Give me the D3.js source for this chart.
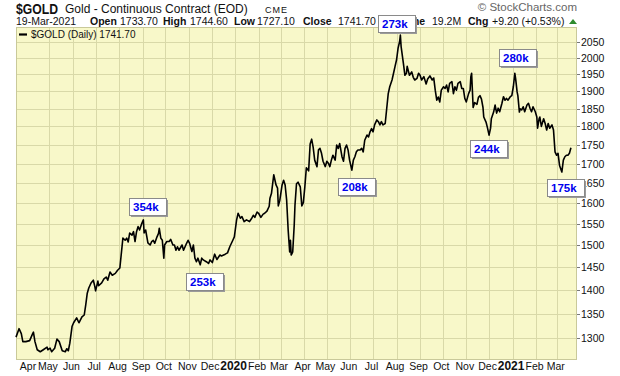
<!DOCTYPE html>
<html>
<head>
<meta charset="utf-8">
<script src="https://cdn.jsdelivr.net/npm/d3@7"></script>
<style>
  body { margin: 0; background: #fff; }
  text { font-family: "Liberation Sans", Arial, sans-serif; }
</style>
</head>
<body>
<svg id="chart" width="620" height="376"></svg>
<script>
// daily closes (continuous gold contract)
const dates = [
  "2019-03-18","2019-03-22","2019-03-25","2019-03-27","2019-03-31","2019-04-05","2019-04-09","2019-04-10","2019-04-12","2019-04-15",
  "2019-04-19","2019-04-23","2019-04-28","2019-04-29","2019-05-02","2019-05-04","2019-05-08","2019-05-11","2019-05-14","2019-05-18",
  "2019-05-22","2019-05-24","2019-05-26","2019-05-28","2019-05-31","2019-06-02","2019-06-06","2019-06-09","2019-06-13","2019-06-16",
  "2019-06-18","2019-06-20","2019-06-22","2019-06-25","2019-06-28","2019-06-30","2019-07-01","2019-07-04","2019-07-05","2019-07-09",
  "2019-07-12","2019-07-15","2019-07-17","2019-07-20","2019-07-23","2019-07-27","2019-07-30","2019-08-02",
  "2019-08-06","2019-08-09","2019-08-11","2019-08-13","2019-08-15","2019-08-18","2019-08-20","2019-08-22","2019-08-24","2019-08-26",
  "2019-08-28","2019-08-31","2019-09-02","2019-09-03","2019-09-05","2019-09-08","2019-09-11","2019-09-13","2019-09-15","2019-09-17",
  "2019-09-20","2019-09-22","2019-09-23","2019-09-25","2019-09-27","2019-09-29","2019-09-30","2019-10-03","2019-10-06","2019-10-08",
  "2019-10-11","2019-10-13","2019-10-15","2019-10-17","2019-10-19","2019-10-23","2019-10-25","2019-10-27","2019-10-29","2019-10-31",
  "2019-11-02","2019-11-05","2019-11-07","2019-11-09","2019-11-11","2019-11-13","2019-11-16","2019-11-18","2019-11-20","2019-11-24",
  "2019-11-27","2019-11-29","2019-12-02","2019-12-05","2019-12-08","2019-12-12","2019-12-14","2019-12-19","2019-12-22","2019-12-25",
  "2019-12-29","2019-12-31","2020-01-03","2020-01-05","2020-01-08","2020-01-10","2020-01-13","2020-01-16","2020-01-20",
  "2020-01-23","2020-01-25","2020-01-27","2020-01-30","2020-02-01","2020-02-04","2020-02-07","2020-02-09","2020-02-12","2020-02-15",
  "2020-02-16","2020-02-18","2020-02-21","2020-02-24","2020-02-26","2020-02-27","2020-02-29","2020-03-03","2020-03-05","2020-03-07",
  "2020-03-09","2020-03-11","2020-03-13","2020-03-14","2020-03-15","2020-03-17","2020-03-19","2020-03-20",
  "2020-03-22","2020-03-24","2020-03-27","2020-03-29","2020-03-31","2020-04-02","2020-04-04","2020-04-07","2020-04-09","2020-04-11",
  "2020-04-13","2020-04-15","2020-04-18","2020-04-20","2020-04-22","2020-04-24","2020-04-26","2020-04-29","2020-05-01","2020-05-03",
  "2020-05-05","2020-05-07","2020-05-09","2020-05-12","2020-05-14","2020-05-16","2020-05-18","2020-05-21","2020-05-23","2020-05-25",
  "2020-05-27","2020-05-29","2020-05-31","2020-06-03","2020-06-05","2020-06-07","2020-06-09","2020-06-11","2020-06-14","2020-06-16",
  "2020-06-18","2020-06-20","2020-06-23","2020-06-25","2020-06-27","2020-06-29","2020-07-01","2020-07-03","2020-07-06","2020-07-08",
  "2020-07-10","2020-07-12","2020-07-14","2020-07-17","2020-07-19","2020-07-21","2020-07-23","2020-07-26","2020-07-28","2020-07-30",
  "2020-08-01","2020-08-03","2020-08-05","2020-08-06","2020-08-07","2020-08-10","2020-08-12","2020-08-14","2020-08-15","2020-08-18",
  "2020-08-21","2020-08-23","2020-08-25","2020-08-28","2020-08-30","2020-09-01",
  "2020-09-03","2020-09-06","2020-09-09","2020-09-11","2020-09-14","2020-09-17","2020-09-19","2020-09-21","2020-09-23","2020-09-25",
  "2020-09-27","2020-09-29","2020-10-02","2020-10-04","2020-10-06","2020-10-08","2020-10-10","2020-10-13","2020-10-15","2020-10-17",
  "2020-10-19","2020-10-21","2020-10-24","2020-10-26","2020-10-28","2020-10-30","2020-11-01","2020-11-04","2020-11-06","2020-11-07",
  "2020-11-08","2020-11-10","2020-11-12","2020-11-15","2020-11-17","2020-11-19","2020-11-21","2020-11-23","2020-11-24","2020-11-27",
  "2020-11-29","2020-12-01","2020-12-03","2020-12-04","2020-12-07","2020-12-09","2020-12-11","2020-12-13","2020-12-15","2020-12-18",
  "2020-12-20","2020-12-22","2020-12-24","2020-12-26","2020-12-29","2020-12-31","2021-01-02","2021-01-04","2021-01-05","2021-01-07",
  "2021-01-08","2021-01-10","2021-01-11","2021-01-13","2021-01-15","2021-01-17","2021-01-20","2021-01-22","2021-01-24","2021-01-26",
  "2021-01-28","2021-01-31","2021-02-02","2021-02-03","2021-02-05","2021-02-06","2021-02-08","2021-02-11","2021-02-13","2021-02-15",
  "2021-02-17","2021-02-19","2021-02-22","2021-02-24","2021-02-26","2021-02-28","2021-03-02","2021-03-04","2021-03-07","2021-03-09",
  "2021-03-11","2021-03-13","2021-03-15","2021-03-17","2021-03-19"
];
const closes = [
  1302,1319,1309,1293,1293,1295,1309,1312,1293,1277,
  1273,1277,1282,1277,1280,1273,1280,1298,1293,1275,
  1273,1279,1275,1290,1324,1331,1341,1331,1343,1347,
  1368,1393,1404,1415,1421,1407,1398,1419,1409,1415,
  1424,1428,1421,1439,1432,1436,1443,1448,
  1516,1511,1516,1507,1528,1523,1531,1508,1531,1543,
  1535,1551,1559,1528,1535,1505,1500,1508,1511,1504,
  1519,1527,1539,1516,1511,1470,1500,1508,1508,1513,
  1500,1500,1488,1496,1488,1500,1488,1496,1504,1511,
  1504,1485,1500,1470,1462,1470,1455,1470,1466,1462,
  1458,1466,1460,1479,1467,1477,1475,1479,1482,1496,
  1511,1519,1559,1575,1563,1567,1555,1559,1555,
  1563,1570,1565,1578,1575,1565,1573,1575,1580,1592,
  1612,1624,1671,1645,1637,1593,1607,1645,1657,1645,
  1607,1535,1484,1511,1477,1484,1547,1595,
  1648,1652,1640,1593,1601,1640,1689,1681,1752,1765,
  1743,1709,1692,1736,1740,1727,1706,1692,1706,1701,
  1692,1709,1722,1709,1749,1740,1753,1718,1706,1740,
  1749,1736,1709,1683,1709,1718,1731,1736,1736,1740,
  1731,1762,1776,1771,1785,1794,1785,1804,1818,1813,
  1804,1813,1804,1808,1850,1893,1913,1933,1953,1974,
  1994,2030,2050,2071,2035,1983,1947,1953,1974,1947,
  1957,1941,1933,1938,1953,1947,
  1933,1943,1921,1936,1945,1933,1939,1903,1874,1883,
  1869,1903,1913,1908,1918,1898,1923,1928,1893,1913,
  1903,1923,1928,1908,1908,1879,1869,1893,1903,1943,
  1953,1853,1867,1862,1882,1887,1877,1853,1826,1812,
  1795,1776,1795,1821,1840,1860,1837,1851,1841,1865,
  1884,1874,1879,1874,1884,1887,1913,1953,1938,1898,
  1887,1840,1849,1846,1855,1841,1860,1865,1851,1841,
  1855,1841,1826,1795,1821,1826,1800,1821,1808,1790,
  1808,1795,1804,1790,1731,1722,1727,1695,1678,1709,
  1718,1722,1722,1727,1741.7
];

const priceTicks = [1300,1350,1400,1450,1500,1550,1600,1650,1700,1750,1800,1850,1900,1950,2000,2050];
const monthLabels = ["Apr","May","Jun","Jul","Aug","Sep","Oct","Nov","Dec","2020","Feb","Mar",
                     "Apr","May","Jun","Jul","Aug","Sep","Oct","Nov","Dec","2021","Feb","Mar"];
const monthStarts = ["2019-04-01","2019-05-01","2019-06-01","2019-07-01","2019-08-01","2019-09-01","2019-10-01","2019-11-01","2019-12-01","2020-01-01","2020-02-01","2020-03-01",
                     "2020-04-01","2020-05-01","2020-06-01","2020-07-01","2020-08-01","2020-09-01","2020-10-01","2020-11-01","2020-12-01","2021-01-01","2021-02-01","2021-03-01"];

// volume call-outs
const volLabels = ["354k","253k","208k","273k","244k","280k","175k"];
const volDates  = ["2019-09-07","2019-11-22","2020-06-09","2020-08-01","2020-11-30","2021-01-07","2021-03-12"];
const volPrices = [1591,1419,1641,2107,1740,2001,1638];

const parse = d3.timeParse("%Y-%m-%d");
const series = dates.map((d, i) => ({ date: parse(d), v: closes[i] }));

const plot = { left: 16, right: 577, top: 27, bottom: 360 };
const svg = d3.select("#chart");

const x = d3.scaleTime()
    .domain([parse("2019-03-18"), parse("2021-03-27")])
    .range([plot.left, plot.right]);
const y = d3.scaleLog()
    .domain([1257, 2097])
    .range([plot.bottom, plot.top]);

// panel
svg.append("rect")
    .attr("x", plot.left).attr("y", plot.top)
    .attr("width", plot.right - plot.left).attr("height", plot.bottom - plot.top)
    .attr("fill", "#f8f8c9");

// horizontal grid
svg.append("g").selectAll("line")
    .data(priceTicks)
    .enter().append("line")
    .attr("x1", plot.left).attr("x2", plot.right)
    .attr("y1", d => Math.round(y(d)) + 0.5).attr("y2", d => Math.round(y(d)) + 0.5)
    .attr("stroke", "#d9d9a8").attr("stroke-width", 1);

// vertical grid (first month sits at the panel edge and has none)
svg.append("g").selectAll("line")
    .data(monthStarts.slice(1))
    .enter().append("line")
    .attr("x1", d => Math.round(x(parse(d))) + 0.5).attr("x2", d => Math.round(x(parse(d))) + 0.5)
    .attr("y1", plot.top).attr("y2", plot.bottom)
    .attr("stroke", "#d9d9a8").attr("stroke-width", 1);

// panel border
svg.append("rect")
    .attr("x", plot.left + 0.5).attr("y", plot.top + 0.5)
    .attr("width", plot.right - plot.left - 1).attr("height", plot.bottom - plot.top - 1)
    .attr("fill", "none").attr("stroke", "#c9c99a");

// price axis on the right
const yAxis = svg.append("g");
yAxis.selectAll("line")
    .data(priceTicks)
    .enter().append("line")
    .attr("x1", plot.right).attr("x2", plot.right + 3)
    .attr("y1", d => Math.round(y(d)) + 0.5).attr("y2", d => Math.round(y(d)) + 0.5)
    .attr("stroke", "#777");
yAxis.selectAll("text")
    .data(priceTicks)
    .enter().append("text")
    .attr("x", plot.right + 4)
    .attr("y", d => y(d) + 4)
    .attr("font-size", "10.5px")
    .attr("fill", "#111")
    .text(d => d);

// month labels
svg.append("g").selectAll("text")
    .data(monthLabels)
    .enter().append("text")
    .attr("x", (d, i) => Math.max(x(parse(monthStarts[i])) - 1.5, 28))
    .attr("y", 370)
    .attr("text-anchor", "middle")
    .attr("font-size", d => /^\d/.test(d) ? "12px" : "10.5px")
    .attr("font-weight", d => /^\d/.test(d) ? "bold" : "normal")
    .attr("fill", "#111")
    .text(d => d);

// price line
const line = d3.line()
    .x(d => x(d.date))
    .y(d => y(d.v));
svg.append("path")
    .datum(series)
    .attr("d", line)
    .attr("fill", "none")
    .attr("stroke", "#000")
    .attr("stroke-width", 1.6)
    .attr("stroke-linejoin", "round");

// legend
svg.append("line")
    .attr("x1", 19).attr("x2", 27).attr("y1", 34.5).attr("y2", 34.5)
    .attr("stroke", "#000").attr("stroke-width", 2.2);
svg.append("text")
    .attr("x", 31).attr("y", 38)
    .attr("font-family", "'DejaVu Sans Mono', monospace")
    .attr("font-size", "10px")
    .attr("fill", "#111")
    .text("$GOLD (Daily) " + closes[closes.length - 1].toFixed(2));

// header
svg.append("text")
    .attr("x", 16).attr("y", 13.5)
    .attr("font-size", "14px").attr("font-weight", "bold")
    .attr("textLength", 42).attr("lengthAdjust", "spacingAndGlyphs")
    .attr("fill", "#111")
    .text("$GOLD");
svg.append("text")
    .attr("x", 65).attr("y", 13)
    .attr("font-size", "12px").attr("fill", "#111")
    .text("Gold - Continuous Contract (EOD)");
svg.append("text")
    .attr("x", 265).attr("y", 13)
    .attr("font-size", "9px").attr("letter-spacing", "1px").attr("fill", "#111")
    .text("CME");

const quote = [
  { t: "19-Mar-2021", x: 16, b: false },
  { t: "Open", x: 90, b: true },
  { t: "1733.70", x: 120, b: false },
  { t: "High", x: 163, b: true },
  { t: "1744.60", x: 190, b: false },
  { t: "Low", x: 234, b: true },
  { t: "1727.10", x: 257, b: false },
  { t: "Close", x: 303, b: true },
  { t: "1741.70", x: 338, b: false },
  { t: "Volume", x: 388, b: true },
  { t: "19.2M", x: 432, b: false },
  { t: "Chg", x: 468, b: true },
  { t: "+9.20 (+0.53%)", x: 492, b: false }
];
svg.append("g").selectAll("text")
    .data(quote)
    .enter().append("text")
    .attr("x", d => d.x).attr("y", 25)
    .attr("font-size", "10.5px")
    .attr("font-weight", d => d.b ? "bold" : "normal")
    .attr("fill", "#111")
    .text(d => d.t);
svg.append("path")
    .attr("d", "M569,24 L573,19 L577,24 Z")
    .attr("fill", "#2e8b2e");

svg.append("text")
    .attr("x", 577).attr("y", 11)
    .attr("text-anchor", "end")
    .attr("font-size", "11.5px").attr("fill", "#666")
    .text("\u00A9 StockCharts.com");

// volume call-out boxes
const boxW = 37, boxH = 17;
const callouts = svg.append("g").selectAll("g")
    .data(volLabels)
    .enter().append("g")
    .attr("transform", (d, i) => `translate(${Math.round(x(parse(volDates[i])) - boxW / 2)}, ${Math.round(y(volPrices[i]) - boxH / 2)})`);
callouts.append("rect")
    .attr("x", 2).attr("y", 2).attr("width", boxW).attr("height", boxH)
    .attr("fill", "#9a9a9a");
callouts.append("rect")
    .attr("x", 0.5).attr("y", 0.5).attr("width", boxW).attr("height", boxH)
    .attr("fill", "#fff").attr("stroke", "#8a8a8a");
callouts.append("text")
    .attr("x", 4).attr("y", 13)
    .attr("font-size", "11.5px").attr("font-weight", "bold")
    .attr("fill", "#0000ee")
    .text(d => d);
</script>
</body>
</html>
